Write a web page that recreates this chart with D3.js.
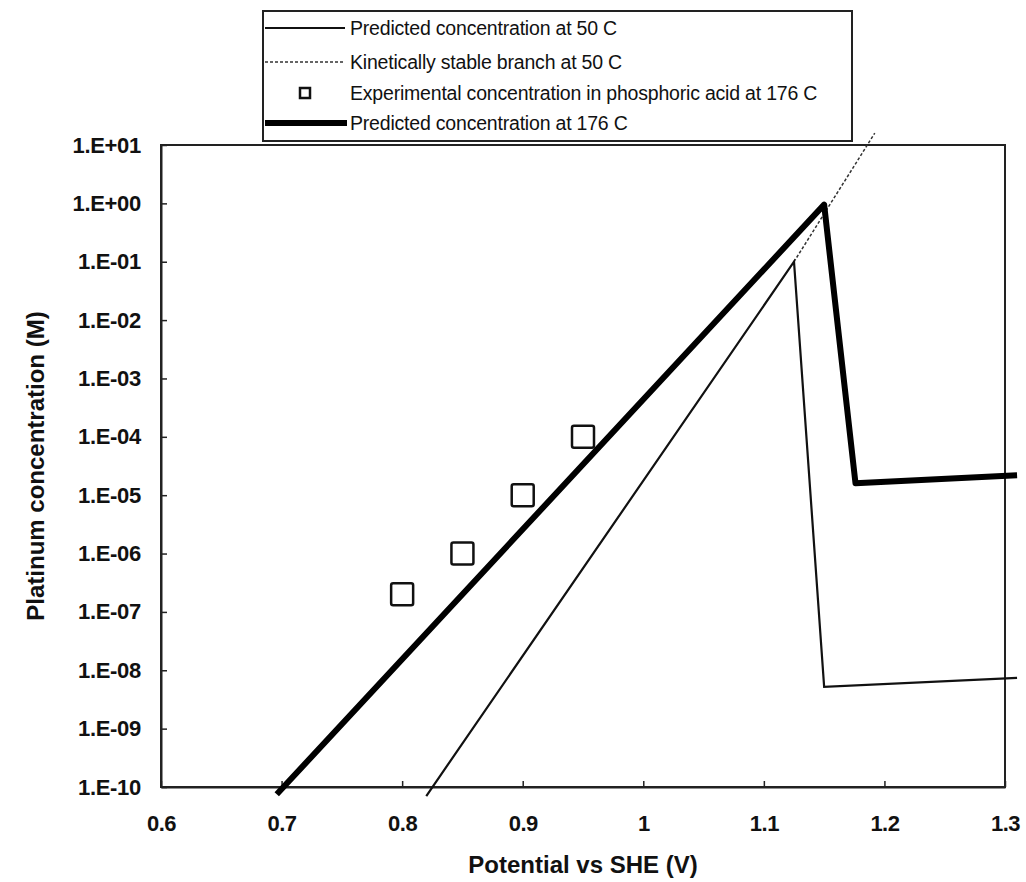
<!DOCTYPE html>
<html>
<head>
<meta charset="utf-8">
<script src="https://cdn.jsdelivr.net/npm/d3@7"></script>
<style>
  body { margin: 0; background: #fff; }
  text { font-family: "Liberation Sans", Arial, sans-serif; }
</style>
</head>
<body>
<div id="chart"></div>
<script>
// values
const pred50 = [[0.82, 7e-11], [1.125, 1e-1], [1.15, 5.2e-9], [1.31, 7.4e-9]];
const kinetic50 = [[1.125, 1e-1], [1.192, 16]];
const pred176 = [[0.696, 7.5e-11], [1.15, 0.95], [1.176, 1.6e-5], [1.31, 2.2e-5]];
const expX = [0.8, 0.85, 0.9, 0.95];
const expY = [2e-7, 1e-6, 1e-5, 1e-4];
const xTicks = [0.6, 0.7, 0.8, 0.9, 1.0, 1.1, 1.2, 1.3];
const yTicks = [1e1, 1e0, 1e-1, 1e-2, 1e-3, 1e-4, 1e-5, 1e-6, 1e-7, 1e-8, 1e-9, 1e-10];
const legendLabels = [
    "Predicted concentration at 50 C",
    "Kinetically stable branch at 50 C",
    "Experimental concentration in phosphoric acid at 176 C",
    "Predicted concentration at 176 C"
];

let width = 1026, height = 882;
let margin = {left: 161, right: 21, top: 145, bottom: 95};

let svg = d3.select('#chart')
    .append('svg')
    .attr('width', width)
    .attr('height', height);

let x = d3.scaleLinear().domain([0.6, 1.3]).range([margin.left, width - margin.right]);
let y = d3.scaleLog().domain([1e-10, 1e1]).range([height - margin.bottom, margin.top]);

function yFmt(v) {
    let e = Math.round(Math.log10(v));
    let s = (e < 0 ? "-" : "+") + String(Math.abs(e)).padStart(2, "0");
    return "1.E" + s;
}

function xFmt(v) {
    return (Math.abs(v - 1) < 1e-9) ? "1" : d3.format(".1f")(v);
}

// plot frame
svg.append("rect")
    .attr("x", x(0.6))
    .attr("y", y(1e1))
    .attr("width", x(1.3) - x(0.6))
    .attr("height", y(1e-10) - y(1e1))
    .attr("fill", "none")
    .attr("stroke", "#222")
    .attr("stroke-width", 2);

// axes with inward ticks
let xAxis = svg.append("g")
    .attr("transform", "translate(0," + y(1e-10) + ")")
    .call(d3.axisBottom(x).tickValues(xTicks).tickFormat(xFmt).tickSizeInner(-6).tickSizeOuter(0).tickPadding(28));
xAxis.select(".domain").attr("stroke-width", 2).attr("stroke", "#222");
xAxis.selectAll(".tick line").attr("stroke-width", 1.5).attr("stroke", "#222");
xAxis.selectAll(".tick text")
    .attr("font-size", 22)
    .attr("font-weight", "bold")
    .attr("letter-spacing", -0.5)
    .attr("fill", "#111");

let yAxis = svg.append("g")
    .attr("transform", "translate(" + x(0.6) + ",0)")
    .call(d3.axisLeft(y).tickValues(yTicks).tickFormat(yFmt).tickSizeInner(-6).tickSizeOuter(0).tickPadding(20));
yAxis.select(".domain").attr("stroke-width", 2).attr("stroke", "#222");
yAxis.selectAll(".tick line").attr("stroke-width", 1.5).attr("stroke", "#222");
yAxis.selectAll(".tick text")
    .attr("font-size", 22)
    .attr("font-weight", "bold")
    .attr("letter-spacing", -0.3)
    .attr("fill", "#111");

// axis titles
svg.append("text")
    .attr("x", (x(0.6) + x(1.3)) / 2)
    .attr("y", 873)
    .attr("text-anchor", "middle")
    .attr("font-size", 24)
    .attr("font-weight", "bold")
    .attr("fill", "#111")
    .text("Potential vs SHE (V)");

svg.append("text")
    .attr("transform", "translate(44," + ((y(1e1) + y(1e-10)) / 2) + ") rotate(-90)")
    .attr("text-anchor", "middle")
    .attr("font-size", 24)
    .attr("font-weight", "bold")
    .attr("fill", "#111")
    .text("Platinum concentration (M)");

let line = d3.line()
    .x(d => x(d[0]))
    .y(d => y(d[1]));

svg.append("path")
    .datum(kinetic50)
    .attr("d", line)
    .attr("fill", "none")
    .attr("stroke", "#333")
    .attr("stroke-width", 1.5)
    .attr("stroke-dasharray", "3,2");

svg.append("path")
    .datum(pred50)
    .attr("d", line)
    .attr("fill", "none")
    .attr("stroke", "#111")
    .attr("stroke-width", 2.2);

svg.append("path")
    .datum(pred176)
    .attr("d", line)
    .attr("fill", "none")
    .attr("stroke", "#000")
    .attr("stroke-width", 6)
    .attr("stroke-linejoin", "round");

// experimental points
svg.append("g")
    .selectAll("rect")
    .data(expX.map((v, i) => [v, expY[i]]))
    .enter().append("rect")
    .attr("x", d => x(d[0]) - 11)
    .attr("y", d => y(d[1]) - 11)
    .attr("width", 22)
    .attr("height", 22)
    .attr("rx", 2)
    .attr("fill", "#fff")
    .attr("stroke", "#111")
    .attr("stroke-width", 2.5);

// legend
let leg = svg.append("g").attr("transform", "translate(263,11)");
leg.append("rect")
    .attr("width", 589)
    .attr("height", 130)
    .attr("fill", "#fff")
    .attr("stroke", "#222")
    .attr("stroke-width", 2);

let rowY = [17, 51, 82, 112];
leg.selectAll("text.lab")
    .data(legendLabels)
    .enter().append("text")
    .attr("class", "lab")
    .attr("x", 87)
    .attr("y", (d, i) => rowY[i])
    .attr("dy", "0.35em")
    .attr("font-size", 19.5)
    .attr("letter-spacing", -0.2)
    .attr("fill", "#111")
    .text(d => d);

leg.append("line")
    .attr("x1", 2).attr("x2", 82)
    .attr("y1", rowY[0]).attr("y2", rowY[0])
    .attr("stroke", "#111").attr("stroke-width", 2);
leg.append("line")
    .attr("x1", 2).attr("x2", 82)
    .attr("y1", rowY[1]).attr("y2", rowY[1])
    .attr("stroke", "#333").attr("stroke-width", 1.5)
    .attr("stroke-dasharray", "3,2");
leg.append("rect")
    .attr("x", 37).attr("y", rowY[2] - 5)
    .attr("width", 10).attr("height", 10)
    .attr("fill", "#fff")
    .attr("stroke", "#111").attr("stroke-width", 2.5);
leg.append("line")
    .attr("x1", 2).attr("x2", 84)
    .attr("y1", rowY[3]).attr("y2", rowY[3])
    .attr("stroke", "#000").attr("stroke-width", 6);
</script>
</body>
</html>
